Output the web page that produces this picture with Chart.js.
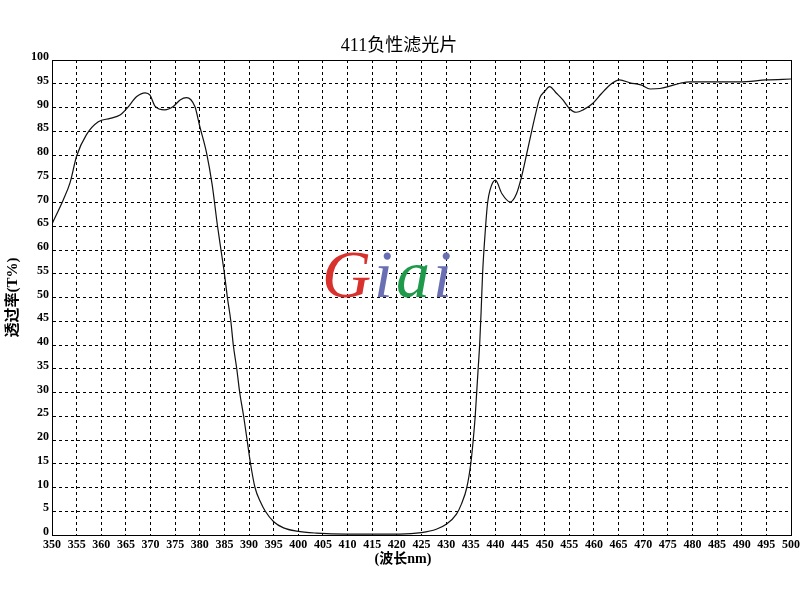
<!DOCTYPE html>
<html lang="zh">
<head>
  <meta charset="UTF-8">
  <title>411负性滤光片</title>
  <script src="https://cdn.jsdelivr.net/npm/chart.js"></script>
  <style>
    html, body { margin: 0; padding: 0; background: #fff; }
    #wrap { width: 800px; height: 600px; }
  </style>
</head>
<body>
  <div id="wrap"><canvas id="specChart" width="800" height="600"></canvas></div>

  <script>
    // 波长 (nm) 与 透过率 (%)
    const wavelengths = [
      350, 352.3, 353.7, 355, 357, 359.4, 361.8, 363.8, 365.2, 367.2,
      368.9, 369.9, 370.9, 372.9, 374.6, 376, 377.3, 379, 380, 381.4,
      382.5, 383.6, 384.3, 385, 385.6, 386.3, 386.8, 387.5, 388.1, 388.9,
      389.6, 390.3, 391.2, 392.3, 393.3, 395, 397, 399.7, 403.7, 409.8,
      415, 420.6, 425, 428, 430.1, 432.1, 433.1, 434.2, 435, 435.5,
      435.9, 436.2, 436.5, 436.8, 437.1, 437.4, 438, 438.4, 438.9, 440,
      441.3, 443, 444.3, 445.3, 446.3, 447.4, 448.2, 449, 450, 451,
      452.4, 453.7, 455, 456.4, 457.8, 459.8, 461.5, 463.2, 465.2, 467.3,
      469.7, 471.4, 473.4, 475.4, 477.5, 479.5, 484.2, 489.6, 495, 500
    ];
    const transmittance = [
      65.5, 70.6, 74.3, 79.8, 84.3, 87, 87.7, 88.4, 89.8, 92.3,
      93.1, 92.6, 90.3, 89.5, 90.2, 91.6, 92.1, 90.2, 86, 80.3,
      73.8, 65, 60, 55, 50, 45, 40, 35, 30, 25,
      20, 15, 10, 7, 5, 2.8, 1.5, 0.8, 0.4, 0.2,
      0.2, 0.2, 0.5, 1.2, 2.3, 4.4, 6.5, 10, 15, 20,
      25, 30, 35, 40, 47, 55, 64.8, 69.8, 72.6, 74.7,
      71.9, 70.1, 71.9, 75.4, 80, 85.2, 88.8, 92, 93.4, 94.4,
      93, 91.6, 89.8, 89, 89.5, 90.9, 92.9, 94.7, 95.8, 95.2,
      94.7, 93.9, 94, 94.5, 95.1, 95.4, 95.4, 95.4, 95.8, 96
    ];

    const xRange = [350, 500, 5];
    const yRange = [0, 100, 5];
    const logoLetters = ['G', 'i', 'a', 'i'];
    const logoColors = ['#d8322e', '#6a6fb4', '#1f9a4b', '#6a6fb4'];

    const points = wavelengths.map((w, i) => ({ x: w, y: transmittance[i] }));
    const tickFont = { family: 'Liberation Serif', weight: 'bold', size: 12 };
    const cjkFont = "'Liberation Serif', 'Noto Sans CJK SC'";

    // 标题、横轴标题、外框和中间的 logo
    const decor = {
      id: 'decor',
      beforeDatasetsDraw(chart) {
        const c = chart.ctx;
        c.save();
        c.font = "italic 68px 'Liberation Serif'";
        c.textBaseline = 'alphabetic';
        let x = 322;
        logoLetters.forEach((ch, i) => {
          c.fillStyle = logoColors[i];
          c.fillText(ch, x, 297);
          x += c.measureText(ch).width + 3;
        });
        c.restore();
      },
      afterDraw(chart) {
        const c = chart.ctx;
        const a = chart.chartArea;
        c.save();
        c.strokeStyle = '#000';
        c.lineWidth = 1;
        c.strokeRect(Math.round(a.left) + 0.5, Math.round(a.top) + 0.5,
          Math.round(a.right - a.left), Math.round(a.bottom - a.top));

        c.fillStyle = '#000';
        c.textAlign = 'center';
        c.textBaseline = 'middle';
        c.font = '18px ' + cjkFont;
        c.fillText('411负性滤光片', 399, 46);
        c.font = 'bold 14px ' + cjkFont;
        c.fillText('(波长nm)', 403, 559);
        c.restore();
      }
    };

    new Chart(document.getElementById('specChart'), {
      type: 'line',
      data: {
        datasets: [{
          data: points,
          borderColor: '#111',
          borderWidth: 1.2,
          pointRadius: 0,
          fill: false,
          cubicInterpolationMode: 'monotone'
        }]
      },
      options: {
        responsive: false,
        animation: false,
        devicePixelRatio: 1,
        layout: { padding: { top: 60, right: 9, left: 0, bottom: 0 } },
        plugins: {
          legend: { display: false },
          tooltip: { enabled: false }
        },
        scales: {
          x: {
            type: 'linear',
            min: xRange[0],
            max: xRange[1],
            afterFit(scale) {
              scale.height = 65;
              scale.paddingLeft = 0;
              scale.paddingRight = 0;
            },
            ticks: {
              stepSize: xRange[2],
              autoSkip: false,
              maxRotation: 0,
              color: '#000',
              font: tickFont,
              padding: 3
            },
            grid: { color: '#000', lineWidth: 1, drawTicks: false },
            border: { display: true, color: '#000', dash: [3, 3] }
          },
          y: {
            min: yRange[0],
            max: yRange[1],
            afterFit(scale) { scale.width = 52; },
            ticks: {
              stepSize: yRange[2],
              color: '#000',
              font: tickFont,
              padding: 3,
              labelOffset: -3
            },
            grid: { color: '#000', lineWidth: 1, drawTicks: false },
            border: { display: true, color: '#000', dash: [3, 3] },
            title: {
              display: true,
              text: '透过率(T%)',
              color: '#000',
              font: { family: 'Liberation Serif, Noto Sans CJK SC', weight: 'bold', size: 15 },
              padding: { top: 4, bottom: 0 }
            }
          }
        }
      },
      plugins: [decor]
    });
  </script>
</body>
</html>
